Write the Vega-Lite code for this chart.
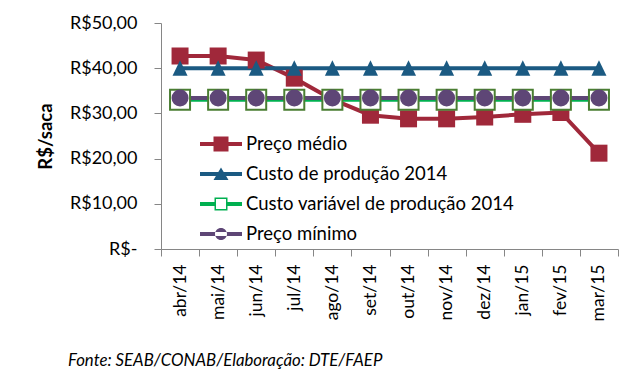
{
  "$schema": "https://vega.github.io/schema/vega-lite/v6.json",
  "width": 457,
  "height": 226,
  "autosize": "none",
  "padding": {"left": 161, "top": 23, "right": 24, "bottom": 143},
  "background": "white",
  "config": {
    "font": "Lato",
    "view": {"stroke": null},
    "axis": {"labelFont": "Lato", "titleFont": "Lato", "labelColor": "#000", "titleColor": "#000", "domainColor": "#868686", "tickColor": "#868686", "grid": false}
  },
  "title": {
    "text": "Fonte: SEAB/CONAB/Elaboração: DTE/FAEP",
    "orient": "bottom",
    "anchor": "start",
    "frame": "group",
    "dx": -93,
    "offset": 32,
    "font": "Lato",
    "fontSize": 16.8,
    "fontStyle": "italic",
    "fontWeight": "normal",
    "color": "#000"
  },
  "data": {
    "values": [
      {"mes": "abr/14", "serie": "Preço médio", "valor": 42.7},
      {"mes": "mai/14", "serie": "Preço médio", "valor": 42.7},
      {"mes": "jun/14", "serie": "Preço médio", "valor": 41.8},
      {"mes": "jul/14", "serie": "Preço médio", "valor": 37.8},
      {"mes": "ago/14", "serie": "Preço médio", "valor": 33.1},
      {"mes": "set/14", "serie": "Preço médio", "valor": 29.6},
      {"mes": "out/14", "serie": "Preço médio", "valor": 28.8},
      {"mes": "nov/14", "serie": "Preço médio", "valor": 28.8},
      {"mes": "dez/14", "serie": "Preço médio", "valor": 29.2},
      {"mes": "jan/15", "serie": "Preço médio", "valor": 29.8},
      {"mes": "fev/15", "serie": "Preço médio", "valor": 30.2},
      {"mes": "mar/15", "serie": "Preço médio", "valor": 21.2},
      {"mes": "abr/14", "serie": "Custo de produção 2014", "valor": 40.0},
      {"mes": "mai/14", "serie": "Custo de produção 2014", "valor": 40.0},
      {"mes": "jun/14", "serie": "Custo de produção 2014", "valor": 40.0},
      {"mes": "jul/14", "serie": "Custo de produção 2014", "valor": 40.0},
      {"mes": "ago/14", "serie": "Custo de produção 2014", "valor": 40.0},
      {"mes": "set/14", "serie": "Custo de produção 2014", "valor": 40.0},
      {"mes": "out/14", "serie": "Custo de produção 2014", "valor": 40.0},
      {"mes": "nov/14", "serie": "Custo de produção 2014", "valor": 40.0},
      {"mes": "dez/14", "serie": "Custo de produção 2014", "valor": 40.0},
      {"mes": "jan/15", "serie": "Custo de produção 2014", "valor": 40.0},
      {"mes": "fev/15", "serie": "Custo de produção 2014", "valor": 40.0},
      {"mes": "mar/15", "serie": "Custo de produção 2014", "valor": 40.0},
      {"mes": "abr/14", "serie": "Custo variável de produção 2014", "valor": 33.0},
      {"mes": "mai/14", "serie": "Custo variável de produção 2014", "valor": 33.0},
      {"mes": "jun/14", "serie": "Custo variável de produção 2014", "valor": 33.0},
      {"mes": "jul/14", "serie": "Custo variável de produção 2014", "valor": 33.0},
      {"mes": "ago/14", "serie": "Custo variável de produção 2014", "valor": 33.0},
      {"mes": "set/14", "serie": "Custo variável de produção 2014", "valor": 33.0},
      {"mes": "out/14", "serie": "Custo variável de produção 2014", "valor": 33.0},
      {"mes": "nov/14", "serie": "Custo variável de produção 2014", "valor": 33.0},
      {"mes": "dez/14", "serie": "Custo variável de produção 2014", "valor": 33.0},
      {"mes": "jan/15", "serie": "Custo variável de produção 2014", "valor": 33.0},
      {"mes": "fev/15", "serie": "Custo variável de produção 2014", "valor": 33.0},
      {"mes": "mar/15", "serie": "Custo variável de produção 2014", "valor": 33.0},
      {"mes": "abr/14", "serie": "Preço mínimo", "valor": 33.4},
      {"mes": "mai/14", "serie": "Preço mínimo", "valor": 33.4},
      {"mes": "jun/14", "serie": "Preço mínimo", "valor": 33.4},
      {"mes": "jul/14", "serie": "Preço mínimo", "valor": 33.4},
      {"mes": "ago/14", "serie": "Preço mínimo", "valor": 33.4},
      {"mes": "set/14", "serie": "Preço mínimo", "valor": 33.4},
      {"mes": "out/14", "serie": "Preço mínimo", "valor": 33.4},
      {"mes": "nov/14", "serie": "Preço mínimo", "valor": 33.4},
      {"mes": "dez/14", "serie": "Preço mínimo", "valor": 33.4},
      {"mes": "jan/15", "serie": "Preço mínimo", "valor": 33.4},
      {"mes": "fev/15", "serie": "Preço mínimo", "valor": 33.4},
      {"mes": "mar/15", "serie": "Preço mínimo", "valor": 33.4}
    ]
  },
  "encoding": {
    "x": {
      "field": "mes",
      "type": "nominal",
      "sort": null,
      "scale": {"paddingInner": 0, "paddingOuter": 0},
      "axis": {
        "title": null,
        "labelAngle": -90,
        "labelFontSize": 17.5,
        "labelPadding": 8,
        "tickSize": 7,
        "tickBand": "extent",
        "domainWidth": 1,
        "tickWidth": 1
      }
    },
    "y": {
      "field": "valor",
      "type": "quantitative",
      "scale": {"domain": [0, 50], "nice": false, "zero": true},
      "axis": {
        "title": "R$/saca",
        "titleFontSize": 18.5,
        "titleFontWeight": "bold",
        "titlePadding": 14,
        "values": [0, 10, 20, 30, 40, 50],
        "labelExpr": "datum.value == 0 ? 'R$-' : 'R$' + replace(format(datum.value, '.2f'), '.', ',')",
        "labelFontSize": 18,
        "labelPadding": 17,
        "tickSize": 7,
        "labelFlush": false
      }
    }
  },
  "layer": [
    {
      "mark": {"type": "line", "strokeWidth": 4},
      "encoding": {
        "color": {
          "field": "serie",
          "type": "nominal",
          "scale": {
            "domain": ["Preço médio", "Custo de produção 2014", "Custo variável de produção 2014", "Preço mínimo"],
            "range": ["#A0283A", "#1B5A82", "#00B050", "#5E4676"]
          },
          "legend": {
            "title": null,
            "orient": "none",
            "legendX": 39,
            "legendY": 111,
            "symbolSize": 400,
            "symbolType": "square",
            "rowPadding": 10,
            "labelFont": "Lato",
            "labelFontSize": 18.5,
            "labelLimit": 0,
            "labelColor": "#000",
            "labelOffset": 26,
            "encode": {
              "symbols": {
                "update": {
                  "shape": {"signal": "datum.value === 'Preço médio' ? 'M-1,-0.2H3.2V0.2H-1Z M0.35,-0.75H1.85V0.75H0.35Z' : datum.value === 'Custo de produção 2014' ? 'M-1,-0.2H3.2V0.2H-1Z M1.1,-0.65L1.85,0.6H0.35Z' : datum.value === 'Preço mínimo' ? 'M-1,-0.2H3.2V0.2H-1Z M0.5,0A0.6,0.6,0,1,0,1.7,0A0.6,0.6,0,1,0,0.5,0Z' : 'M-1,-0.2H0.45V0.2H-1Z M1.75,-0.2H3.2V0.2H1.75Z M0.45,-0.65H1.75V0.65H0.45Z M0.6,-0.5V0.5H1.6V-0.5Z'"},
                  "fill": {"signal": "datum.value === 'Preço médio' ? '#A0283A' : datum.value === 'Custo de produção 2014' ? '#1B5A82' : datum.value === 'Preço mínimo' ? '#5E4676' : '#00B050'"},
                  "stroke": {"value": "transparent"},
                  "strokeWidth": {"value": 0},
                  "opacity": {"value": 1}
                }
              }
            }
          }
        }
      }
    },
    {
      "transform": [{"filter": "datum.serie === 'Preço médio'"}],
      "mark": {"type": "point", "shape": "square", "filled": true, "size": 289, "color": "#A0283A", "opacity": 1}
    },
    {
      "transform": [{"filter": "datum.serie === 'Custo de produção 2014'"}],
      "mark": {"type": "point", "shape": "M0,-1.07L1,1L-1,1Z", "filled": true, "size": 225, "color": "#1B5A82", "opacity": 1}
    },
    {
      "transform": [{"filter": "datum.serie === 'Custo variável de produção 2014'"}],
      "mark": {"type": "point", "shape": "square", "filled": true, "size": 400, "fill": "white", "stroke": "#4A7E32", "strokeWidth": 2, "opacity": 1}
    },
    {
      "transform": [{"filter": "datum.serie === 'Preço mínimo'"}],
      "mark": {"type": "point", "shape": "circle", "filled": true, "size": 289, "color": "#5E4676", "opacity": 1}
    }
  ]
}
